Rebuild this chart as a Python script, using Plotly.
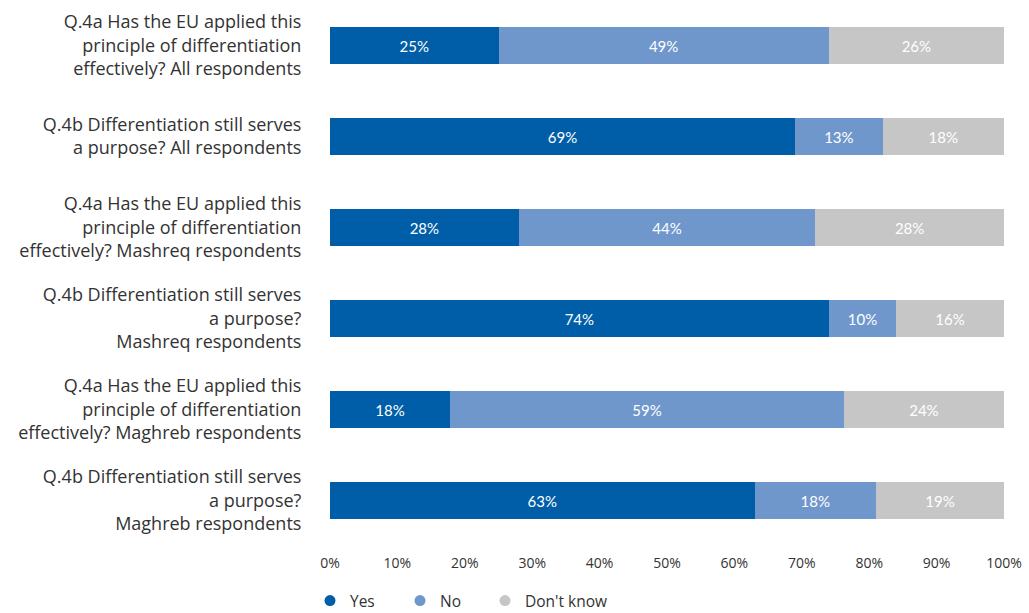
import plotly.graph_objects as go

categories = [
    "Q.4a Has the EU applied this<br>principle of differentiation<br>effectively? All respondents",
    "Q.4b Differentiation still serves<br>a purpose? All respondents",
    "Q.4a Has the EU applied this<br>principle of differentiation<br>effectively? Mashreq respondents",
    "Q.4b Differentiation still serves<br>a purpose?<br>Mashreq respondents",
    "Q.4a Has the EU applied this<br>principle of differentiation<br>effectively? Maghreb respondents",
    "Q.4b Differentiation still serves<br>a purpose?<br>Maghreb respondents",
]
yes = [25, 69, 28, 74, 18, 63]
no = [49, 13, 44, 10, 59, 18]
dont_know = [26, 18, 28, 16, 24, 19]

series = [
    ("Yes", yes, "#005EA8"),
    ("No", no, "#7097CC"),
    ("Don't know", dont_know, "#C6C6C6"),
]

PLOT_L, PLOT_W = 330, 674
PLOT_H = 546
legend_marker_px = [330, 420, 505]
legend_names = ["legend", "legend2", "legend3"]

fig = go.Figure()
for name, vals, color in series:
    fig.add_trace(go.Bar(
        y=categories, x=vals, name=name, orientation="h",
        marker=dict(color=color, line=dict(width=0)),
        text=[f"{v}%" for v in vals],
        textposition="inside", insidetextanchor="middle",
        textfont=dict(color="white", size=15, family="Lato"),
        hoverinfo="skip", showlegend=False,
    ))

# legend entries with circle markers
for (name, vals, color), lg in zip(series, legend_names):
    fig.add_trace(go.Scatter(
        x=[None], y=[None], mode="markers", name=name,
        marker=dict(symbol="circle", size=11, color=color),
        showlegend=True, legend=lg, hoverinfo="skip",
    ))

legend_y = -(601 - PLOT_H) / PLOT_H
legend_font = dict(size=15.5, family="Open Sans", color="#333333")
legend_layouts = {}
for lg, mx in zip(legend_names, legend_marker_px):
    legend_layouts[lg] = dict(
        orientation="h", x=(mx - 20 - PLOT_L) / PLOT_W, xanchor="left",
        y=legend_y, yanchor="middle", font=legend_font,
        bgcolor="rgba(0,0,0,0)",
    )

fig.update_layout(
    width=1029, height=613,
    barmode="stack", barnorm="percent", bargap=0.6,
    plot_bgcolor="white", paper_bgcolor="white",
    margin=dict(l=PLOT_L, r=1029 - PLOT_L - PLOT_W, t=0, b=613 - PLOT_H, autoexpand=False),
    font=dict(family="Open Sans", color="#333333"),
    showlegend=True,
    uniformtext=dict(mode="show", minsize=10),
    **legend_layouts,
)
fig.update_xaxes(range=[0, 100], dtick=10, ticksuffix="%", showgrid=False, zeroline=False,
                 showline=False, ticks="outside", ticklen=4, tickcolor="white",
                 tickfont=dict(size=14, color="#333333"), fixedrange=True)
fig.update_yaxes(categoryorder="array", categoryarray=categories, autorange="reversed",
                 showgrid=False, showline=False, ticks="outside", ticklen=24, tickcolor="white",
                 tickfont=dict(size=18, color="#333333"), fixedrange=True)

fig.write_html("out.html", config={"displayModeBar": False},
               post_script="document.body.style.margin='0';")
